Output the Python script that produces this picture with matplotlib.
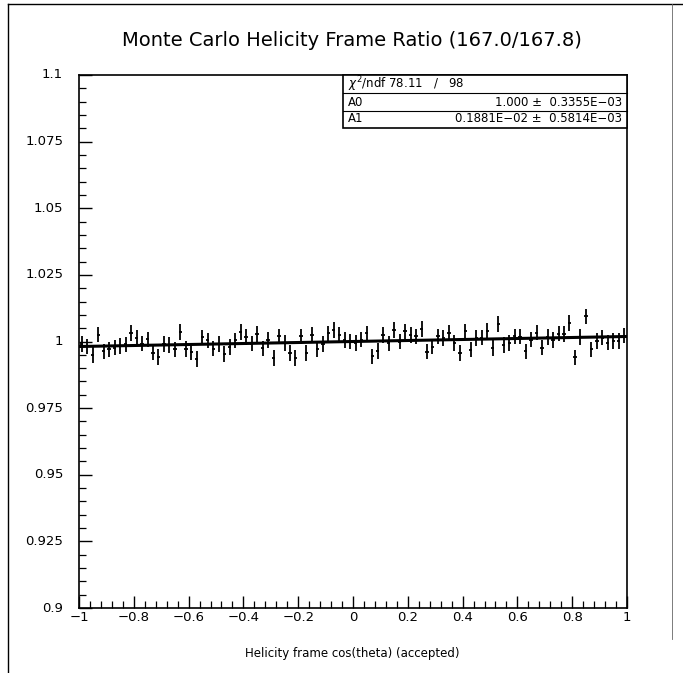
import numpy as np
import matplotlib.pyplot as plt
from matplotlib.ticker import MultipleLocator
from matplotlib.lines import Line2D

# ============================================================
# DATA (100 bins in cos(theta))
# ============================================================

bin_centers = np.arange(-0.99, 1.0, 0.02)

ratio = [
    0.9990, 0.9982, 0.9950, 1.0026, 0.9963, 0.9970, 0.9977, 0.9983, 0.9989, 1.0032,
    1.0013, 0.9992, 1.0008, 0.9958, 0.9942, 0.9990, 0.9987, 0.9971, 1.0035, 0.9972,
    0.9959, 0.9934, 1.0016, 1.0004, 0.9973, 0.9991, 0.9953, 0.9979, 1.0004, 1.0035,
    1.0017, 0.9992, 1.0029, 0.9974, 1.0005, 0.9938, 1.0019, 0.9994, 0.9957, 0.9938,
    1.0019, 0.9957, 1.0026, 0.9971, 0.9990, 1.0031, 1.0044, 1.0025, 1.0006, 1.0000,
    0.9994, 1.0007, 1.0031, 0.9944, 0.9964, 1.0025, 0.9993, 1.0043, 1.0000, 1.0038,
    1.0025, 1.0019, 1.0047, 0.9962, 0.9981, 1.0019, 1.0013, 1.0033, 0.9995, 0.9957,
    1.0038, 0.9969, 1.0013, 1.0014, 1.0039, 0.9975, 1.0065, 0.9987, 0.9994, 1.0019,
    1.0018, 0.9963, 1.0007, 1.0033, 0.9977, 1.0017, 1.0005, 1.0030, 1.0029, 1.0070,
    0.9940, 1.0017, 1.0094, 0.9971, 1.0002, 1.0014, 0.9996, 1.0002, 1.0002, 1.0022,
]

ratio_err = 0.0029
bin_half = 0.006

# fit parameters from the stats box
chi2, ndf = 78.11, 98
A0, A0_err = 1.000, 0.3355e-03
A1, A1_err = 0.1881e-02, 0.5814e-03

# ============================================================
# FIGURE
# ============================================================

plt.rcParams['font.family'] = ['DejaVu Sans']

W, H = 683, 673
fig = plt.figure(figsize=(W / 100, H / 100), dpi=100)

# axes box in pixels: left 79, right 627, top 75, bottom 608
ax = fig.add_axes([79 / W, 1 - 608 / H, (627 - 79) / W, (608 - 75) / H])

# data points
ax.errorbar(
    bin_centers, ratio,
    yerr=ratio_err, xerr=bin_half,
    fmt='none', ecolor='black', elinewidth=1.3, capsize=0
)

# fit line
xf = np.array([-1.0, 1.0])
ax.plot(xf, A0 + A1 * xf, color='black', lw=2.2)

# ============================================================
# AXES
# ============================================================

ax.set_xlim(-1, 1)
ax.set_ylim(0.9, 1.1)

ax.xaxis.set_major_locator(MultipleLocator(0.2))
ax.xaxis.set_minor_locator(MultipleLocator(0.04))
ax.yaxis.set_major_locator(MultipleLocator(0.025))
ax.yaxis.set_minor_locator(MultipleLocator(0.005))

ax.set_xticklabels([])
ax.set_yticklabels([])

ax.tick_params(axis='both', which='major', direction='in', length=9, width=1.0)
ax.tick_params(axis='both', which='minor', direction='in', length=5, width=0.9)
ax.tick_params(top=False, right=False)

for spine in ax.spines.values():
    spine.set_linewidth(1.2)

# tick labels drawn as text so they match the scan
xt = [-1, -0.8, -0.6, -0.4, -0.2, 0, 0.2, 0.4, 0.6, 0.8, 1]
xt_lab = ['\u22121', '\u22120.8', '\u22120.6', '\u22120.4', '\u22120.2', '0',
          '0.2', '0.4', '0.6', '0.8', '1']
for v, s in zip(xt, xt_lab):
    ax.text(v, -0.018, s, transform=ax.get_xaxis_transform(),
            ha='center', va='center', fontsize=9.5)

yt = [0.9, 0.925, 0.95, 0.975, 1.0, 1.025, 1.05, 1.075, 1.1]
yt_lab = ['0.9', '0.925', '0.95', '0.975', '1', '1.025', '1.05', '1.075', '1.1']
for v, s in zip(yt, yt_lab):
    ax.text(-0.029, v, s, transform=ax.get_yaxis_transform(),
            ha='right', va='center', fontsize=9.5)

# ============================================================
# TITLE AND AXIS LABEL
# ============================================================

fig.text(352 / W, 1 - 40 / H, 'Monte Carlo Helicity Frame Ratio (167.0/167.8)',
         ha='center', va='center', fontsize=14)

fig.text(352 / W, 1 - 653 / H, 'Helicity frame cos(theta) (accepted)',
         ha='center', va='center', fontsize=8.5)

# ============================================================
# STATS BOX
# ============================================================

bx0, bx1 = 343 / W, 627 / W
by0, by1 = 1 - 128 / H, 1 - 75 / H
rows = [1 - 84 / H, 1 - 102 / H, 1 - 119 / H]

fig.patches.append(plt.Rectangle((bx0, by0), bx1 - bx0, by1 - by0,
                                 transform=fig.transFigure, fill=True,
                                 facecolor='white', edgecolor='black', lw=1.2,
                                 zorder=5))
for yl in [1 - 93 / H, 1 - 111 / H]:
    fig.add_artist(Line2D([bx0, bx1], [yl, yl], transform=fig.transFigure,
                          color='black', lw=0.8, zorder=6))

fig.text(bx0 + 5 / W, rows[0], r'$\chi^2$/ndf %.2f   /   %d' % (chi2, ndf),
         ha='left', va='center', fontsize=8.5, zorder=7)
fig.text(bx0 + 5 / W, rows[1], 'A0', ha='left', va='center', fontsize=8.5, zorder=7)
fig.text(bx1 - 5 / W, rows[1], '%.3f \u00b1  0.3355E\u221203' % A0,
         ha='right', va='center', fontsize=8.5, zorder=7)
fig.text(bx0 + 5 / W, rows[2], 'A1', ha='left', va='center', fontsize=8.5, zorder=7)
fig.text(bx1 - 5 / W, rows[2], '0.1881E\u221202 \u00b1  0.5814E\u221203',
         ha='right', va='center', fontsize=8.5, zorder=7)

# ============================================================
# PAGE FRAME
# ============================================================

fig.add_artist(Line2D([8 / W, 1.0], [1 - 4 / H, 1 - 4 / H], transform=fig.transFigure,
                      color='black', lw=1.0))
fig.add_artist(Line2D([8 / W, 8 / W], [0.0, 1 - 4 / H], transform=fig.transFigure,
                      color='black', lw=1.0))
fig.add_artist(Line2D([672 / W, 672 / W], [0.05, 1 - 4 / H], transform=fig.transFigure,
                      color='0.4', lw=0.6))

plt.savefig('out.png', dpi=100)
